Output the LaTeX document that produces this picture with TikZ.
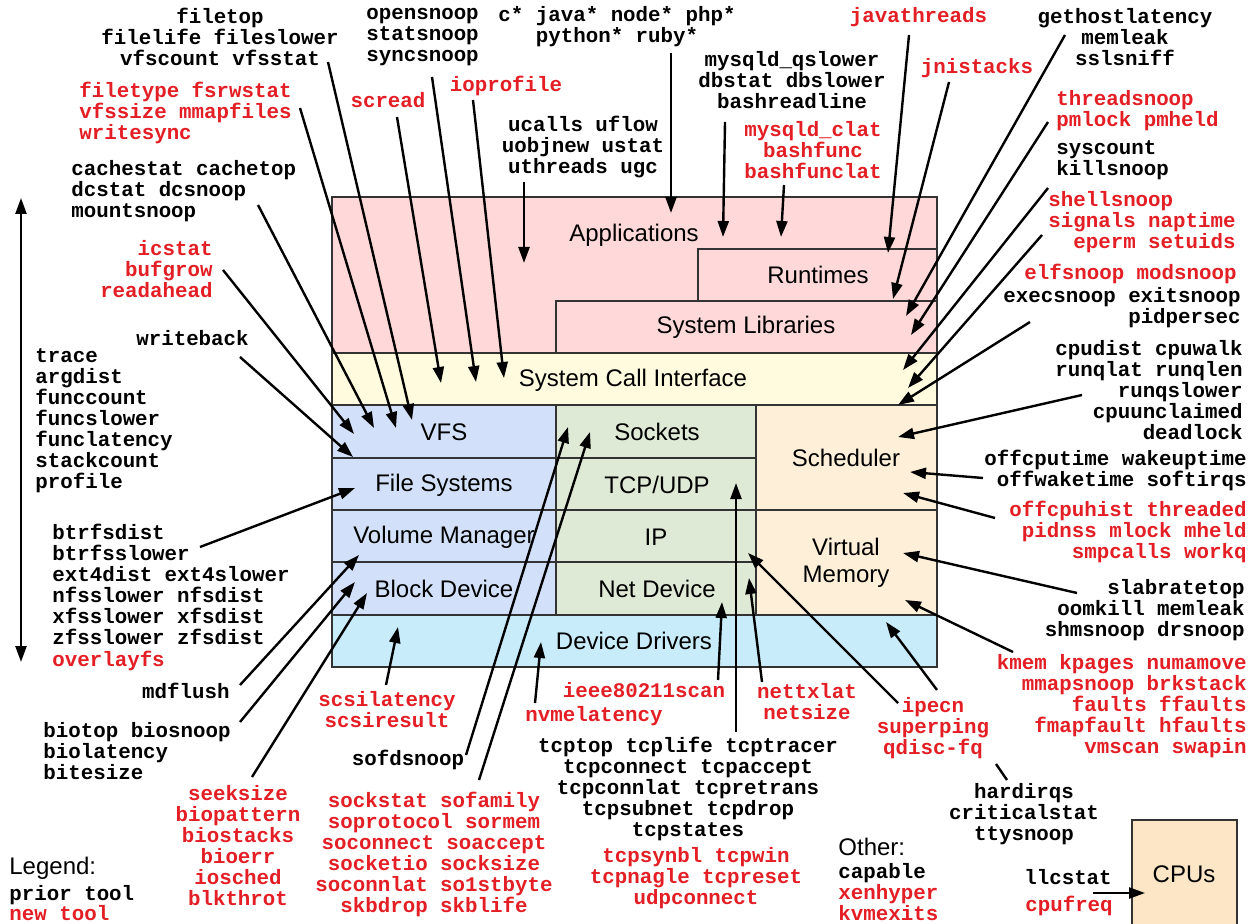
\documentclass[tikz,border=0pt]{standalone}
\usepackage{fontspec}
\setmainfont{Liberation Sans}
\setmonofont{Liberation Mono}
\usetikzlibrary{arrows.meta}
\definecolor{newred}{RGB}{227,30,36}
\definecolor{appcol}{HTML}{FFD9D9}
\definecolor{scicol}{HTML}{FFFBDE}
\definecolor{fscol}{HTML}{D2E1F9}
\definecolor{netcol}{HTML}{DEEAD6}
\definecolor{cpucol}{HTML}{FEF0D8}
\definecolor{drvcol}{HTML}{C8ECFA}
\definecolor{cpuboxcol}{HTML}{FCE6C5}

\begin{document}
\begin{tikzpicture}[x=0.5pt, y=-0.5pt,
    layer/.style={draw=black!80, line width=0.8pt},
    layername/.style={inner sep=0pt, font=\fontsize{12}{13.5}\selectfont},
    oldtool/.style={inner sep=0pt, font=\fontsize{10.4}{10.5}\selectfont\ttfamily\bfseries},
    newtool/.style={oldtool, text=newred},
    arr/.style={line width=1.2pt, -{Triangle[length=8pt,width=5.5pt]}}]
    \useasboundingbox (0,0) rectangle (1251,924);

    % stack of layers
    \path[layer, fill=appcol] (332,197) rectangle (937,353);
    \path[layer, fill=appcol] (698,249) rectangle (937,301);
    \path[layer, fill=appcol] (556,301) rectangle (937,353);
    \path[layer, fill=scicol] (332,353) rectangle (937,405);
    \foreach \a/\b in {405/458,458/510,510/562,562/615} {
        \path[layer, fill=fscol] (332,\a) rectangle (556,\b);
        \path[layer, fill=netcol] (556,\a) rectangle (756,\b);
    }
    \path[layer, fill=cpucol] (756,405) rectangle (937,510);
    \path[layer, fill=cpucol] (756,510) rectangle (937,615);
    \path[layer, fill=drvcol] (332,615) rectangle (937,667);
    \path[layer, fill=cpuboxcol] (1132,820) rectangle (1237,940);

    \node[layername] (apps) at (634,235) {Applications};
    \node[layername] (rtime) at (818,275) {Runtimes};
    \node[layername] (slib) at (746,327) {System Libraries};
    \node[layername] (sci) at (633,380) {System Call Interface};
    \node[layername] (vfs) at (444,432) {VFS};
    \node[layername] (fsys) at (444,485) {File Systems};
    \node[layername] (volm) at (444,537) {Volume Manager};
    \node[layername] (bdev) at (444,589) {Block Device};
    \node[layername] (sock) at (657,432) {Sockets};
    \node[layername] (tcpudp) at (657,485) {TCP/UDP};
    \node[layername] (ipl) at (656,537) {IP};
    \node[layername] (netdev) at (657,589) {Net Device};
    \node[layername] (sched) at (846,458) {Scheduler};
    \node[layername, align=center] (vmem) at (846,563) {Virtual\\Memory};
    \node[layername] (ddrv) at (634,641) {Device Drivers};
    \node[layername] (cpus) at (1184,874) {CPUs};

    % left column of tools
    \node[oldtool, align=center] (ftop) at (220,37) {filetop\\filelife fileslower\\vfscount vfsstat};
    \node[newtool, align=left, anchor=west] (ftype) at (79,113) {filetype fsrwstat\\vfssize mmapfiles\\writesync};
    \node[oldtool, align=left, anchor=west] (cache) at (71,191) {cachestat cachetop\\dcstat dcsnoop\\mountsnoop};
    \node[newtool, align=right, anchor=east] (icstat) at (213,269) {icstat\\bufgrow\\readahead};
    \node[oldtool] (wback) at (192.5,338) {writeback};
    \node[oldtool, align=left, anchor=west] (trace) at (35,421) {trace\\argdist\\funccount\\funcslower\\funclatency\\stackcount\\profile};
    \node[oldtool, align=left, anchor=west] (btrfs) at (52,584) {btrfsdist\\btrfsslower\\ext4dist ext4slower\\nfsslower nfsdist\\xfsslower xfsdist\\zfsslower zfsdist};
    \node[newtool, anchor=west] (ovl) at (52,661) {overlayfs};
    \node[oldtool, anchor=east] (mdfl) at (230,691) {mdflush};
    \node[oldtool, align=left, anchor=west] (biotop) at (43,751) {biotop biosnoop\\biolatency\\bitesize};
    \node[newtool, align=center] (seek) at (238,846) {seeksize\\biopattern\\biostacks\\bioerr\\iosched\\blkthrot};
    \node[layername, anchor=west] (legend) at (9,868) {Legend:};
    \node[oldtool, anchor=west] (prior) at (9,895) {prior tool};
    \node[newtool, anchor=west] (newt) at (9,913) {new tool};

    % top row of tools
    \node[oldtool, align=left, anchor=west] (osnoop) at (366,37) {opensnoop\\statsnoop\\syncsnoop};
    \node[oldtool, align=center] (lang) at (617,27) {c* java* node* php*\\python* ruby*};
    \node[newtool] (scread) at (388,100) {scread};
    \node[newtool] (ioprof) at (506,86) {ioprofile};
    \node[oldtool, align=center] (ucalls) at (583,147) {ucalls uflow\\uobjnew ustat\\uthreads ugc};
    \node[oldtool, align=center] (mysql) at (792,80.5) {mysqld\_qslower\\dbstat dbslower\\bashreadline};
    \node[newtool, align=center] (mclat) at (813,150) {mysqld\_clat\\bashfunc\\bashfunclat};
    \node[newtool] (jthr) at (918.5,17) {javathreads};
    \node[newtool] (jni) at (977,68) {jnistacks};
    \node[oldtool, align=center] (ghost) at (1125,37) {gethostlatency\\memleak\\sslsniff};

    % right column of tools
    \node[newtool, align=left, anchor=west] (thsnoop) at (1056,110.5) {threadsnoop\\pmlock pmheld};
    \node[oldtool, align=left, anchor=west] (sysc) at (1056,160.5) {syscount\\killsnoop};
    \node[newtool, align=right, anchor=east] (shsnoop) at (1236,222.5) {shellsnoop\phantom{xxxxx}\\signals naptime\\eperm setuids};
    \node[newtool, anchor=east] (elf) at (1237,274) {elfsnoop modsnoop};
    \node[oldtool, align=right, anchor=east] (exec) at (1241,308) {execsnoop exitsnoop\\pidpersec};
    \node[oldtool, align=right, anchor=east] (cpud) at (1243,390) {cpudist cpuwalk\\runqlat runqlen\\runqslower\\cpuunclaimed\\deadlock};
    \node[oldtool, align=right, anchor=east] (offcpu) at (1247,470.5) {offcputime wakeuptime\\offwaketime softirqs};
    \node[newtool, align=right, anchor=east] (offhist) at (1247,531.5) {offcpuhist threaded\\pidnss mlock mheld\\smpcalls workq};
    \node[oldtool, align=right, anchor=east] (slab) at (1245,610) {slabratetop\\oomkill memleak\\shmsnoop drsnoop};
    \node[newtool, align=right, anchor=east] (kmem) at (1247,706.5) {kmem kpages numamove\\mmapsnoop brkstack\\faults ffaults\\fmapfault hfaults\\vmscan swapin};
    \node[newtool, align=center] (ipecn) at (933,728) {ipecn\\superping\\qdisc-fq};
    \node[oldtool, align=center] (hirq) at (1024,814.5) {hardirqs\\criticalstat\\ttysnoop};
    \node[layername, anchor=west] (other) at (838,847) {Other:};
    \node[oldtool, anchor=west] (capable) at (838,873) {capable};
    \node[newtool, align=left, anchor=west] (xen) at (838,903) {xenhyper\\kvmexits};
    \node[oldtool] (llc) at (1068,877) {llcstat};
    \node[newtool] (cfreq) at (1069,906) {cpufreq};

    % bottom row of tools
    \node[newtool, align=center] (scsi) at (387,710) {scsilatency\\scsiresult};
    \node[oldtool] (sofd) at (408,760) {sofdsnoop};
    \node[newtool, align=center] (sockst) at (434,854) {sockstat sofamily\\soprotocol sormem\\soconnect soaccept\\socketio socksize\\soconnlat so1stbyte\\skbdrop skblife};
    \node[newtool] (nvme) at (594,716) {nvmelatency};
    \node[newtool] (ieee) at (644,690) {ieee80211scan};
    \node[newtool, align=center] (nettx) at (807,701.5) {nettxlat\\netsize};
    \node[oldtool, align=center] (tcptop) at (688,789) {tcptop tcplife tcptracer\\tcpconnect tcpaccept\\tcpconnlat tcpretrans\\tcpsubnet tcpdrop\\tcpstates};
    \node[newtool, align=center] (tcpsyn) at (696,878) {tcpsynbl tcpwin\\tcpnagle tcpreset\\udpconnect};

    % arrow ends beside the tools
    \coordinate (ftop-o) at (328,62);
    \coordinate (ftype-o) at (300,108);
    \coordinate (cache-o) at (258,205);
    \coordinate (icstat-o) at (223,270);
    \coordinate (wback-o) at (240,357);
    \coordinate (btrfs-o) at (200,547);
    \coordinate (mdfl-o) at (240,685);
    \coordinate (biotop-o) at (240,722);
    \coordinate (seek-o) at (252,777);
    \coordinate (scread-o) at (397,117);
    \coordinate (osnoop-o) at (432,77);
    \coordinate (ioprof-o) at (473,100);
    \coordinate (ucalls-o) at (524,182);
    \coordinate (lang-o) at (671,53);
    \coordinate (mysql-o) at (725,122);
    \coordinate (mclat-o) at (784,185);
    \coordinate (jthr-o) at (909,35);
    \coordinate (jni-o) at (949,82);
    \coordinate (ghost-o) at (1065,35);
    \coordinate (thsnoop-o) at (1048,122);
    \coordinate (sysc-o) at (1048,188);
    \coordinate (shsnoop-o) at (1042,235);
    \coordinate (exec-o) at (1030,322);
    \coordinate (cpud-o) at (1082,395);
    \coordinate (offcpu-o) at (983,478);
    \coordinate (offhist-o) at (995,518);
    \coordinate (slab-o) at (1077,593);
    \coordinate (kmem-o) at (1013,652);
    \coordinate (ipecn-o) at (898,703);
    \coordinate (ipecn-p) at (937,690);
    \coordinate (hirq-o) at (1007,780);
    \coordinate (hirq-p) at (996,764);
    \coordinate (nettx-o) at (762,682);
    \coordinate (tcptop-o) at (736,732);
    \coordinate (ieee-o) at (718,680);
    \coordinate (nvme-o) at (535,703);
    \coordinate (sockst-o) at (479,780);
    \coordinate (sofd-o) at (466,755);
    \coordinate (scsi-o) at (386,685);
    \coordinate (cfreq-o) at (1093,893);

    % arrow tips inside the layers
    \coordinate (vfs-1) at (412,420);
    \coordinate (vfs-2) at (396,428);
    \coordinate (vfs-3) at (374,428);
    \coordinate (vfs-4) at (354,434);
    \coordinate (vfs-5) at (353,457);
    \coordinate (fsys-1) at (355,488);
    \coordinate (volm-1) at (359,555);
    \coordinate (bdev-1) at (355,582);
    \coordinate (bdev-2) at (367,593);
    \coordinate (sci-1) at (441,383);
    \coordinate (sci-2) at (476,382);
    \coordinate (sci-3) at (504,378);
    \coordinate (apps-1) at (524,263);
    \coordinate (apps-2) at (671,213);
    \coordinate (apps-3) at (723,237);
    \coordinate (apps-4) at (781,237);
    \coordinate (rtime-1) at (888,253);
    \coordinate (rtime-2) at (893,299);
    \coordinate (slib-1) at (906,316);
    \coordinate (slib-2) at (911,335);
    \coordinate (sci-4) at (903,370);
    \coordinate (sci-5) at (908,388);
    \coordinate (sci-6) at (898,405);
    \coordinate (sched-1) at (898,437);
    \coordinate (sched-2) at (910,472);
    \coordinate (sched-3) at (903,493);
    \coordinate (vmem-1) at (903,553);
    \coordinate (vmem-2) at (905,600);
    \coordinate (ipl-1) at (748,553);
    \coordinate (ddrv-1) at (886,622);
    \coordinate (netdev-1) at (749,578);
    \coordinate (tcpudp-1) at (736,483);
    \coordinate (netdev-2) at (722,602);
    \coordinate (ddrv-2) at (541,642);
    \coordinate (sock-1) at (568,427);
    \coordinate (sock-2) at (590,432);
    \coordinate (ddrv-3) at (398,627);
    \coordinate (cpus-1) at (1145,893);
    \coordinate (axis-t) at (21,198);
    \coordinate (axis-b) at (21,662);

    \draw[arr] (ftop-o) -- (vfs-1);
    \draw[arr] (ftype-o) -- (vfs-2);
    \draw[arr] (cache-o) -- (vfs-3);
    \draw[arr] (icstat-o) -- (vfs-4);
    \draw[arr] (wback-o) -- (vfs-5);
    \draw[arr] (btrfs-o) -- (fsys-1);
    \draw[arr] (mdfl-o) -- (volm-1);
    \draw[arr] (biotop-o) -- (bdev-1);
    \draw[arr] (seek-o) -- (bdev-2);
    \draw[arr] (scread-o) -- (sci-1);
    \draw[arr] (osnoop-o) -- (sci-2);
    \draw[arr] (ioprof-o) -- (sci-3);
    \draw[arr] (ucalls-o) -- (apps-1);
    \draw[arr] (lang-o) -- (apps-2);
    \draw[arr] (mysql-o) -- (apps-3);
    \draw[arr] (mclat-o) -- (apps-4);
    \draw[arr] (jthr-o) -- (rtime-1);
    \draw[arr] (jni-o) -- (rtime-2);
    \draw[arr] (ghost-o) -- (slib-1);
    \draw[arr] (thsnoop-o) -- (slib-2);
    \draw[arr] (sysc-o) -- (sci-4);
    \draw[arr] (shsnoop-o) -- (sci-5);
    \draw[arr] (exec-o) -- (sci-6);
    \draw[arr] (cpud-o) -- (sched-1);
    \draw[arr] (offcpu-o) -- (sched-2);
    \draw[arr] (offhist-o) -- (sched-3);
    \draw[arr] (slab-o) -- (vmem-1);
    \draw[arr] (kmem-o) -- (vmem-2);
    \draw[arr] (ipecn-o) -- (ipl-1);
    \draw[arr] (ipecn-p) -- (ddrv-1);
    \draw[line width=1.2pt] (hirq-o) -- (hirq-p);
    \draw[arr] (nettx-o) -- (netdev-1);
    \draw[arr] (tcptop-o) -- (tcpudp-1);
    \draw[arr] (ieee-o) -- (netdev-2);
    \draw[arr] (nvme-o) -- (ddrv-2);
    \draw[arr] (sofd-o) -- (sock-1);
    \draw[arr] (sockst-o) -- (sock-2);
    \draw[arr] (scsi-o) -- (ddrv-3);
    \draw[arr] (cfreq-o) -- (cpus-1);
    \draw[line width=1.2pt, {Triangle[length=8pt,width=5.5pt]}-{Triangle[length=8pt,width=5.5pt]}] (axis-t) -- (axis-b);
\end{tikzpicture}
\end{document}
